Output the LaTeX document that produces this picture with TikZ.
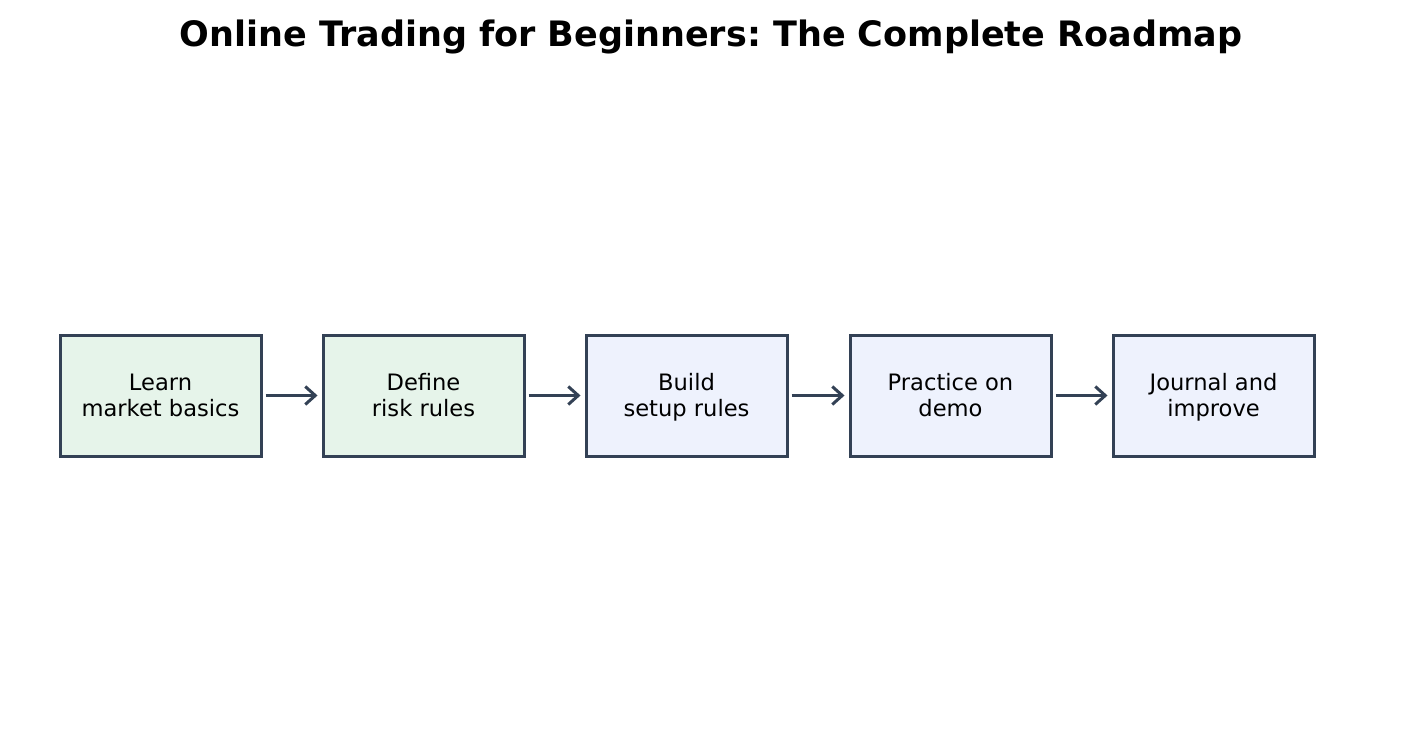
\documentclass[tikz,border=0pt]{standalone}
\usepackage{fontspec}
\setmainfont{DejaVu Sans}
\usetikzlibrary{arrows.meta}
\definecolor{edge}{HTML}{334155}
\definecolor{greenfill}{HTML}{E6F4EA}
\definecolor{bluefill}{HTML}{EEF2FD}
\newcommand{\firstline}[1]{\rule{0pt}{11.6pt}\strut#1}
\newcommand{\boxline}[1]{\strut#1}
\tikzset{
  stepbox/.style={draw=edge, line width=1.5pt, minimum width=100.5pt, minimum height=60.5pt, inner sep=0pt, align=center, font=\fontsize{11.3}{13}\selectfont, text=black},
  gbox/.style={stepbox, fill=greenfill},
  bbox/.style={stepbox, fill=bluefill},
  conn/.style={draw=edge, line width=1.5pt, -{Straight Barb[length=5pt,width=9pt]}, shorten <=1.5pt, shorten >=2pt}
}
\begin{document}
\frenchspacing
\begin{tikzpicture}[x=0.5pt,y=-0.5pt]
\useasboundingbox (0,0) rectangle (1422,738);
\node[font=\bfseries\fontsize{17.5}{22}\selectfont] (title) at (711,37) {Online Trading for Beginners: The Complete Roadmap};
\node[gbox] (s1) at (160.5,395.5) {\firstline{Learn}\\\boxline{market basics}};
\node[gbox] (s2) at (423.5,395.5) {\firstline{Define}\\\boxline{risk rules}};
\node[bbox] (s3) at (686.5,395.5) {\firstline{Build}\\\boxline{setup rules}};
\node[bbox] (s4) at (950.5,395.5) {\firstline{Practice on}\\\boxline{demo}};
\node[bbox] (s5) at (1213.5,395.5) {\firstline{Journal and}\\\boxline{improve}};
\draw[conn] (s1) -- (s2);
\draw[conn] (s2) -- (s3);
\draw[conn] (s3) -- (s4);
\draw[conn] (s4) -- (s5);
\end{tikzpicture}
\end{document}
